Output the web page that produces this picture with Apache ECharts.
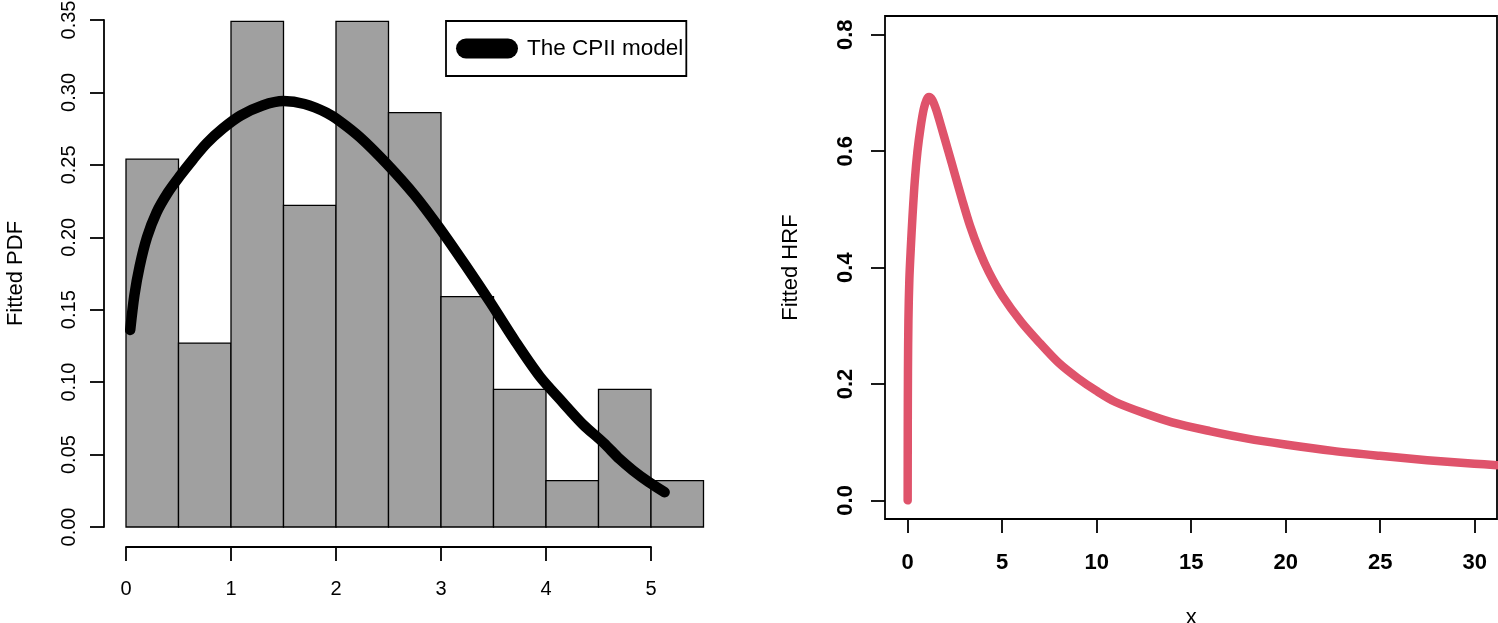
<!DOCTYPE html>
<html><head><meta charset="utf-8">
<script src="https://cdn.jsdelivr.net/npm/echarts@6/dist/echarts.min.js"></script>
<style>html,body{margin:0;padding:0;background:#fff}#c{width:1498px;height:623px}</style>
</head><body><div id="c"></div>
<script>
// ---- data ----
const histStart = [0, 0.5, 1, 1.5, 2, 2.5, 3, 3.5, 4, 4.5, 5];
const histEnd   = [0.5, 1, 1.5, 2, 2.5, 3, 3.5, 4, 4.5, 5, 5.5];
const histDensity = [0.254, 0.127, 0.349, 0.222, 0.349, 0.286, 0.159, 0.095, 0.032, 0.095, 0.032];

const pdfX = [0.04, 0.08, 0.13, 0.2, 0.29, 0.4, 0.51, 0.64, 0.77, 0.92, 1.09, 1.3, 1.5, 1.7, 1.91, 2.04, 2.23, 2.48, 2.75, 2.99, 3.23, 3.47, 3.7, 3.94, 4.16, 4.35, 4.55, 4.7, 4.83, 4.98, 5.13];
const pdfY = [0.136, 0.160, 0.180, 0.200, 0.217, 0.231, 0.242, 0.254, 0.265, 0.275, 0.284, 0.291, 0.294, 0.292, 0.286, 0.280, 0.269, 0.251, 0.229, 0.206, 0.181, 0.155, 0.129, 0.104, 0.086, 0.071, 0.058, 0.047, 0.039, 0.031, 0.024];

const hrfX = [0, 0.005, 0.015, 0.04, 0.09, 0.16, 0.26, 0.38, 0.52, 0.68, 0.85, 1.0, 1.13, 1.3, 1.5, 1.75, 2.15, 2.5, 2.87, 3.3, 3.8, 4.3, 5, 6, 7, 8, 9, 10, 11, 12.5, 14, 16, 18, 20, 22.5, 25, 27.5, 30, 31.2];
const hrfY = [0, 0.12, 0.22, 0.31, 0.38, 0.43, 0.49, 0.55, 0.60, 0.64, 0.672, 0.688, 0.693, 0.688, 0.672, 0.645, 0.600, 0.560, 0.518, 0.472, 0.428, 0.392, 0.352, 0.307, 0.270, 0.236, 0.210, 0.188, 0.169, 0.150, 0.134, 0.119, 0.106, 0.096, 0.085, 0.0765, 0.069, 0.063, 0.0605];

const pdfYTicks = {min: 0, max: 0.35, step: 0.05};
const pdfXTicks = {min: 0, max: 5, step: 1};
const hrfYTicks = {min: 0, max: 0.8, step: 0.2};
const hrfXTicks = {min: 0, max: 30, step: 5};

// ---- chart ----
const FONT = '"Liberation Sans", Arial, Helvetica, sans-serif';
const chart = echarts.init(document.getElementById('c'), null, {renderer: 'canvas'});
const histData = histStart.map((s, i) => [s, histEnd[i], histDensity[i]]);
const pdfData = pdfX.map((x, i) => [x, pdfY[i]]);
const hrfData = hrfX.map((x, i) => [x, hrfY[i]]);

const AX = '#000', AXW = 1.8;
const hiddenAxis = (gi, min, max) => ({gridIndex: gi, type: 'value', min: min, max: max,
  axisLine: {show: false}, axisTick: {show: false}, axisLabel: {show: false}, splitLine: {show: false}});
const txt = (size, bold) => ({color: '#000', fontSize: size, fontFamily: FONT, fontWeight: bold ? 'bold' : 'normal'});
const G = (o) => Object.assign({outerBoundsMode: 'none', containLabel: false}, o);

chart.setOption({
  animation: false,
  backgroundColor: '#fff',
  grid: [
    G({left: 126, top: 20, width: 577.5, height: 507}),      // 0 hist data
    G({left: 126, top: 20, width: 525, height: 527}),        // 1 hist x axis (line at y=547)
    G({left: 104, top: 20, width: 100, height: 507}),        // 2 hist y axis (line at x=104)
    G({left: 885, top: 16, width: 612, height: 503, show: true, borderColor: '#000', borderWidth: AXW, backgroundColor: 'transparent'}), // 3 hrf box
    G({left: 907.7, top: 16, width: 567, height: 503}),      // 4 hrf x axis
    G({left: 885, top: 34.8, width: 100, height: 465.6})     // 5 hrf y axis
  ],
  xAxis: [
    hiddenAxis(0, 0, 5.5),
    {gridIndex: 1, type: 'value', min: pdfXTicks.min, max: pdfXTicks.max, interval: pdfXTicks.step,
      axisLine: {show: true, lineStyle: {color: AX, width: AXW}},
      axisTick: {show: true, length: 14, lineStyle: {color: AX, width: AXW}},
      axisLabel: Object.assign({margin: 32}, txt(20, false)), splitLine: {show: false}},
    hiddenAxis(2, 0, 1),
    hiddenAxis(3, -1.2, 31.2),
    {gridIndex: 4, type: 'value', min: hrfXTicks.min, max: hrfXTicks.max, interval: hrfXTicks.step,
      axisLine: {show: false},
      axisTick: {show: true, length: 14, lineStyle: {color: AX, width: AXW}},
      axisLabel: Object.assign({margin: 33}, txt(22, true)), splitLine: {show: false},
      name: 'x', nameLocation: 'middle', nameGap: 88, nameTextStyle: txt(22, false)},
    hiddenAxis(5, 0, 1)
  ],
  yAxis: [
    hiddenAxis(0, 0, 0.35),
    hiddenAxis(1, 0, 1),
    {gridIndex: 2, type: 'value', min: pdfYTicks.min, max: pdfYTicks.max, interval: pdfYTicks.step,
      axisLine: {show: true, lineStyle: {color: AX, width: AXW}},
      axisTick: {show: true, length: 14, lineStyle: {color: AX, width: AXW}},
      axisLabel: Object.assign({margin: 25, rotate: 90, formatter: v => v.toFixed(2)}, txt(20, false)), splitLine: {show: false},
      name: 'Fitted PDF', nameLocation: 'middle', nameRotate: 90, nameGap: 77, nameTextStyle: txt(22, false)},
    hiddenAxis(3, -0.032, 0.832),
    hiddenAxis(4, 0, 1),
    {gridIndex: 5, type: 'value', min: hrfYTicks.min, max: hrfYTicks.max, interval: hrfYTicks.step,
      axisLine: {show: false},
      axisTick: {show: true, length: 14, lineStyle: {color: AX, width: AXW}},
      axisLabel: Object.assign({margin: 28, rotate: 90, formatter: v => v.toFixed(1)}, txt(22, true)), splitLine: {show: false},
      name: 'Fitted HRF', nameLocation: 'middle', nameRotate: 90, nameGap: 83, nameTextStyle: txt(22, false)}
  ],
  legend: {
    data: [{name: 'The CPII model', icon: 'path://M10,0 L52,0 A10,10 0 0 1 52,20 L10,20 A10,10 0 0 1 10,0 Z'}],
    left: 446, top: 21, orient: 'horizontal',
    padding: [16, 3, 16, 10], itemWidth: 62, itemHeight: 20,
    borderColor: '#000', borderWidth: AXW, backgroundColor: '#fff',
    itemStyle: {color: '#000', borderWidth: 0},
    textStyle: Object.assign({padding: [0, 0, 0, 4]}, txt(22.5, false))
  },
  series: [
    {type: 'custom', xAxisIndex: 0, yAxisIndex: 0, data: histData, encode: {x: [0, 1], y: 2},
      renderItem: (params, api) => {
        const p0 = api.coord([api.value(0), api.value(2)]);
        const p1 = api.coord([api.value(1), 0]);
        return {type: 'rect', shape: {x: p0[0], y: p0[1], width: p1[0] - p0[0], height: p1[1] - p0[1]},
          style: {fill: '#a0a0a0', stroke: '#000', lineWidth: 1.3}};
      }, z: 1},
    {type: 'line', name: 'The CPII model', xAxisIndex: 0, yAxisIndex: 0, data: pdfData, showSymbol: false, symbol: 'none',
      smooth: 0.3,
      lineStyle: {color: '#000', width: 10.5, cap: 'round', join: 'round'}, itemStyle: {color: '#000'}, z: 3, clip: false},
    {type: 'line', name: 'HRF', xAxisIndex: 3, yAxisIndex: 3, data: hrfData, showSymbol: false, symbol: 'none',
      smooth: 0.3,
      lineStyle: {color: '#DF536B', width: 8.5, cap: 'round', join: 'round'}, itemStyle: {color: '#DF536B'}, z: 3, clip: true}
  ]
});
</script></body></html>
